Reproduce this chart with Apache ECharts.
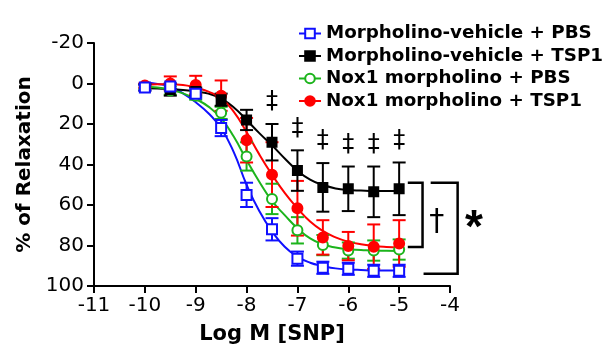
<!DOCTYPE html>
<html><head><meta charset="utf-8">
<script src="https://cdn.jsdelivr.net/npm/echarts@6/dist/echarts.min.js"></script>
<style>html,body{margin:0;padding:0;background:#fff}#c{width:608px;height:361px}</style>
</head><body><div id="c"></div>
<script>
// Log M [SNP] concentrations of the measured points
const logConc = [-10, -9.5, -9, -8.5, -8, -7.5, -7, -6.5, -6, -5.5, -5];
const seriesNames = ['Morpholino-vehicle + PBS', 'Morpholino-vehicle + TSP1', 'Nox1 morpholino + PBS', 'Nox1 morpholino + TSP1'];
// % of Relaxation (mean) and error
const mvPbsMean  = [2, 1.5, 5, 22, 55, 72, 86.5, 91, 91.5, 92.5, 92.5];
const mvPbsErr   = [1.5, 1.5, 2, 4, 6, 5.5, 3.5, 3, 3, 3, 3];
const mvTspMean  = [2, 3, 4, 8, 18, 29, 43, 51.3, 52, 53.5, 52];
const mvTspErr   = [1.5, 3, 2, 3, 5, 9, 10, 12, 11, 12.5, 13];
const noxPbsMean = [1.5, 3.5, 6, 14.5, 36, 57, 72.5, 79.8, 82.5, 82.5, 82];
const noxPbsErr  = [1, 2, 2, 3, 7, 7.5, 6.5, 5, 4, 5, 5];
const noxTspMean = [1, 0, 0.7, 6, 28, 45, 61.6, 76, 80.3, 80.6, 79];
const noxTspErr  = [1, 3.5, 4.5, 7.5, 11, 16, 13.5, 8.5, 7, 11, 11.5];
// fitted curves, every 0.25 log unit
const curveConc = [-10, -9.75, -9.5, -9.25, -9, -8.75, -8.5, -8.25, -8, -7.75, -7.5, -7.25, -7, -6.75, -6.5, -6.25, -6, -5.75, -5.5, -5.25, -5];
const mvPbsCurve  = [-0.6, 0.2, 1.6, 4.9, 9.3, 14.7, 22.1, 34, 50, 63, 73, 80.6, 85.5, 88.5, 90.1, 91.3, 91.8, 92.1, 92.3, 92.3, 92.3];
const mvTspCurve  = [2.4, 2.5, 2.7, 3.2, 4, 5, 7.5, 11.8, 18, 24.5, 30.5, 37, 43, 47.5, 50.1, 51.8, 52.6, 52.9, 53.1, 53.1, 53.1];
const noxPbsCurve = [1.6, 2, 3.2, 4.9, 7.7, 11.4, 17.2, 26.3, 37.8, 48.5, 58, 65, 71.5, 76.5, 79.4, 81, 81.9, 82.2, 82.5, 82.6, 82.7];
const noxTspCurve = [0.7, 0.4, 0.4, 0.7, 2.1, 4, 7.3, 14, 24, 35, 45, 54, 61.6, 68.2, 72.8, 76, 78.1, 79.4, 80.2, 80.7, 81];
// significance marks (‡) above Morpholino-vehicle + TSP1 at these concentrations
const daggerConc = [-7.5, -7, -6.5, -6, -5.5, -5];
// brackets: [x of top arm start, x of bottom arm start, x of vertical, y top, y bottom]
const brackets = [[-4.83, -4.83, -4.54, 49, 80.7], [-4.38, -4.52, -3.85, 49, 94]];
const bracketLabels = [[-4.26, 68.4, '†'], [-3.53, 67, '*']];
const xTicks = [-11, -4, 1];
const yTicks = [-20, 100, 20];

const colors = ['#1010ff', '#000000', '#1cb41c', '#ff0000'];
const symbols = ['emptyRect', 'rect', 'emptyCircle', 'circle'];
const symSizes = [10, 9, 10, 10];
const means = [mvPbsMean, mvTspMean, noxPbsMean, noxTspMean];
const errs = [mvPbsErr, mvTspErr, noxPbsErr, noxTspErr];
const curves = [mvPbsCurve, mvTspCurve, noxPbsCurve, noxTspCurve];

function errRender(color) {
  return function (params, api) {
    const x = api.value(0), m = api.value(1), e = api.value(2);
    const t = api.coord([x, m - e]), b = api.coord([x, m + e]);
    const hw = 6.5, st = {stroke: color, lineWidth: 2};
    return {type: 'group', children: [
      {type: 'line', shape: {x1: t[0], y1: t[1], x2: b[0], y2: b[1]}, style: st},
      {type: 'line', shape: {x1: t[0] - hw, y1: t[1], x2: t[0] + hw, y2: t[1]}, style: st},
      {type: 'line', shape: {x1: b[0] - hw, y1: b[1], x2: b[0] + hw, y2: b[1]}, style: st}
    ]};
  };
}

const order = [2, 3, 1, 0];
const series = [];
// fitted curves (carry the legend entries)
[0, 1, 2, 3].forEach(i => {
  series.push({
    type: 'line', name: seriesNames[i], smooth: true,
    data: curveConc.map((x, k) => [x, curves[i][k]]),
    symbol: symbols[i], symbolSize: symSizes[i], showSymbol: false,
    lineStyle: {color: colors[i], width: 2},
    itemStyle: {color: colors[i], borderColor: colors[i], borderWidth: 2},
    z: 2
  });
});
order.forEach(i => {
  series.push({
    type: 'custom', renderItem: errRender(colors[i]), silent: true,
    data: logConc.map((x, k) => [x, means[i][k], errs[i][k]]), z: 3
  });
});
order.forEach(i => {
  series.push({
    type: 'scatter', name: seriesNames[i],
    data: logConc.map((x, k) => [x, means[i][k]]),
    symbol: symbols[i], symbolSize: symSizes[i],
    itemStyle: {color: colors[i], borderColor: colors[i], borderWidth: 2, opacity: 1},
    z: 4
  });
});
// daggers
series.push({
  type: 'custom', silent: true, z: 5,
  data: daggerConc.map(x => { const k = logConc.indexOf(x); return [x, mvTspMean[k] - mvTspErr[k]]; }),
  renderItem: function (params, api) {
    const p = api.coord([api.value(0), api.value(1)]);
    return {type: 'text', x: p[0], y: p[1] - 22,
      style: {text: '‡', fontSize: 24, fontFamily: 'DejaVu Sans', fill: '#000', align: 'center', verticalAlign: 'middle'}};
  }
});
// brackets
series.push({
  type: 'custom', silent: true, z: 5, clip: false,
  data: brackets,
  renderItem: function (params, api) {
    const a = api.coord([api.value(0), api.value(3)]);
    const v1 = api.coord([api.value(2), api.value(3)]);
    const v2 = api.coord([api.value(2), api.value(4)]);
    const b = api.coord([api.value(1), api.value(4)]);
    return {type: 'polyline', shape: {points: [a, v1, v2, b]}, style: {stroke: '#000', lineWidth: 2.5, fill: null}};
  }
});
series.push({
  type: 'custom', silent: true, z: 5, clip: false,
  data: bracketLabels,
  renderItem: function (params, api) {
    const p = api.coord([api.value(0), api.value(1)]);
    const t = bracketLabels[params.dataIndex][2];
    const star = t === '*';
    return {type: 'text', x: p[0], y: p[1] + (star ? 10 : 0),
      style: {text: t, fontSize: star ? 46 : 30, fontWeight: star ? 'bold' : 'normal',
        fontFamily: star ? 'Liberation Sans' : 'DejaVu Sans', fill: '#000', align: 'center', verticalAlign: 'middle'}};
  }
});

const axisFont = {fontFamily: 'DejaVu Sans', fontSize: 20, color: '#000'};
const nameFont = {fontFamily: 'DejaVu Sans', fontSize: 20, fontWeight: 'bold', color: '#000'};
const chart = echarts.init(document.getElementById('c'), null, {renderer: 'canvas'});
chart.setOption({
  animation: false,
  backgroundColor: '#fff',
  grid: {left: 94, right: 158, top: 43, bottom: 75, containLabel: false},
  legend: {
    data: seriesNames, orient: 'vertical', left: 293, top: 19,
    itemWidth: 22, itemHeight: 12, itemGap: 3.5,
    textStyle: {fontFamily: 'DejaVu Sans', fontWeight: 'bold', fontSize: 18.3, color: '#000', lineHeight: 19}
  },
  xAxis: {
    type: 'value', min: xTicks[0], max: xTicks[1], interval: xTicks[2],
    name: 'Log M [SNP]', nameLocation: 'middle', nameGap: 38, nameTextStyle: {...nameFont, fontSize: 21},
    axisLine: {onZero: false, lineStyle: {color: '#000', width: 2}},
    axisTick: {length: 7, lineStyle: {color: '#000', width: 2}},
    axisLabel: {...axisFont, margin: 10},
    splitLine: {show: false}
  },
  yAxis: {
    type: 'value', inverse: true, min: yTicks[0], max: yTicks[1], interval: yTicks[2],
    name: '% of Relaxation', nameLocation: 'middle', nameGap: 57, nameTextStyle: nameFont,
    axisLine: {show: true, onZero: false, lineStyle: {color: '#000', width: 2}},
    axisTick: {show: true, length: 7, lineStyle: {color: '#000', width: 2}},
    axisLabel: {...axisFont, margin: 10},
    splitLine: {show: false}
  },
  series: series
});
</script></body></html>
